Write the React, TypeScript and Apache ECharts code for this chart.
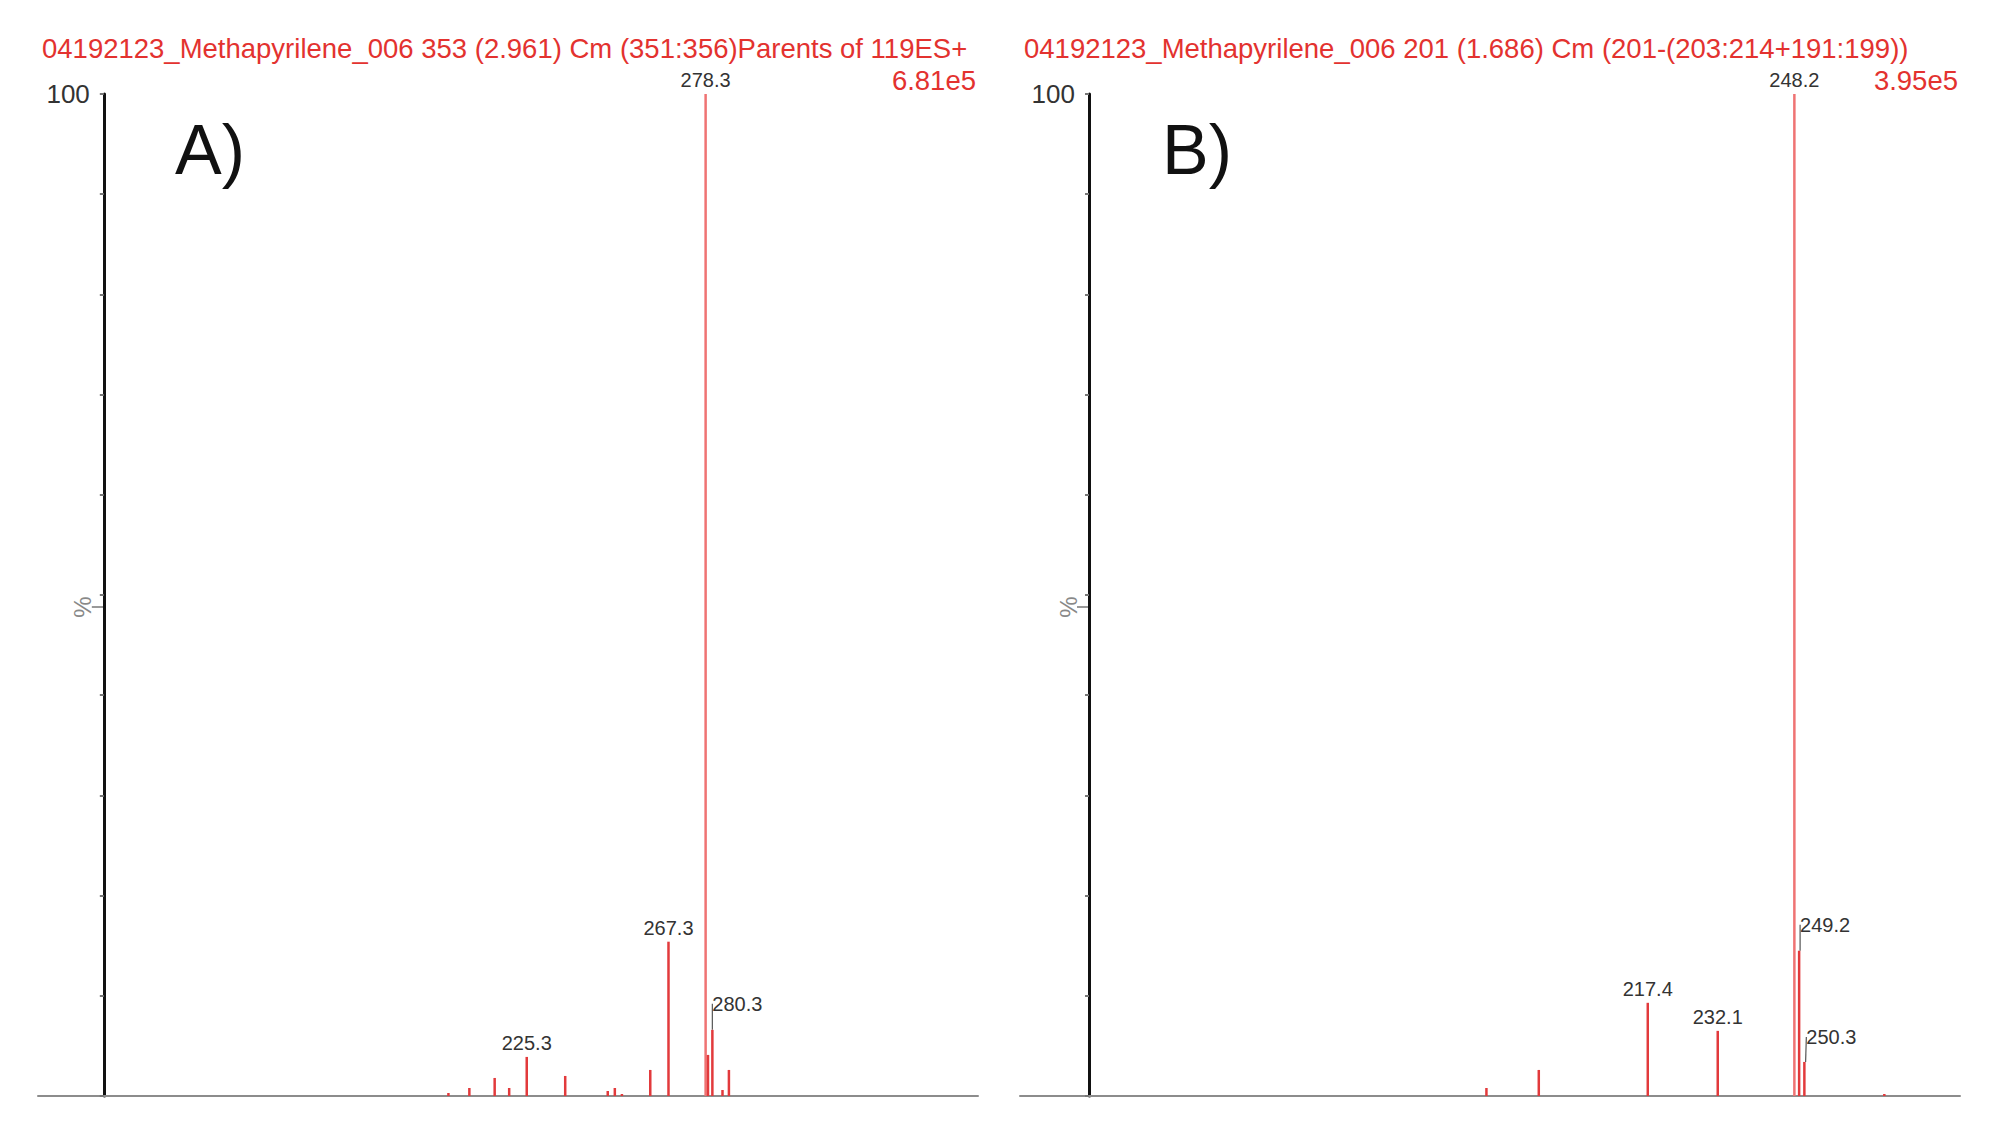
import React, { useEffect, useRef } from 'react';
import * as echarts from 'echarts';

// ---------- DATA ----------
const titleA = '04192123_Methapyrilene_006 353 (2.961) Cm (351:356)Parents of 119ES+';
const maxIntensityA = '6.81e5';
const massesA = [202.1, 208.3, 215.8, 220.1, 225.3, 236.7, 249.3, 251.4, 253.5, 261.9, 267.3, 278.3, 279.0, 280.3, 283.3, 285.2];
const intensitiesA = [0.3, 0.8, 1.8, 0.8, 3.9, 2.0, 0.5, 0.8, 0.2, 2.6, 15.4, 100, 4.1, 6.6, 0.6, 2.6];
const labeledA = [225.3, 267.3, 278.3, 280.3];
const mzRangeA = [80.5, 359];

const titleB = '04192123_Methapyrilene_006 201 (1.686) Cm (201-(203:214+191:199))';
const maxIntensityB = '3.95e5';
const massesB = [183.5, 194.5, 217.4, 232.1, 248.2, 249.2, 250.3, 267.1];
const intensitiesB = [0.8, 2.6, 9.3, 6.5, 100, 14.5, 3.4, 0.2];
const labeledB = [217.4, 232.1, 248.2, 249.2, 250.3];
const mzRangeB = [85.5, 283];

const yTickLabels = ['100'];
const yAxisName = '%';
const panelLetters = ['A)', 'B)'];
const axisAtMz = 100;

// ---------- STYLE / LAYOUT ----------
const FONT = "'Liberation Sans', Arial, Helvetica, sans-serif";
const RED = '#e3322f';
const PEAK = '#e23a3c';
const MAIN_PEAK = '#ef7373';
const GRID_TOP = 94;
const GRID_HEIGHT = 1002;
const GRID_WIDTH = 940;
const leaderOffsets: Record<string, [number, number]> = {
  '280.3': [25, -12],
  '249.2': [26, -12],
  '250.3': [27, -11],
};

const panels = [
  { title: titleA, maxI: maxIntensityA, masses: massesA, intens: intensitiesA, labeled: labeledA, range: mzRangeA, left: 38, titleX: 42, maxIRight: 976, letterX: 175 },
  { title: titleB, maxI: maxIntensityB, masses: massesB, intens: intensitiesB, labeled: labeledB, range: mzRangeB, left: 1020, titleX: 1024, maxIRight: 1958, letterX: 1162 },
];

export default function App() {
  const ref = useRef<HTMLDivElement>(null);
  useEffect(() => {
    document.body.style.margin = '0';
    if (!ref.current) return;
    const chart = echarts.init(ref.current, null, { renderer: 'svg' });

    const grids: any[] = [];
    const xAxes: any[] = [];
    const yAxes: any[] = [];
    const series: any[] = [];
    const graphic: any[] = [];

    panels.forEach((p, gi) => {
      grids.push({ left: p.left, top: GRID_TOP, width: GRID_WIDTH, height: GRID_HEIGHT, containLabel: false });
      xAxes.push({
        type: 'value', gridIndex: gi, min: p.range[0], max: p.range[1],
        axisLine: { show: true, lineStyle: { color: '#8c8c8c', width: 2 } },
        axisTick: { show: false }, axisLabel: { show: false }, splitLine: { show: false },
      });
      const axisPx = ((axisAtMz - p.range[0]) / (p.range[1] - p.range[0])) * GRID_WIDTH;
      yAxes.push({
        type: 'value', gridIndex: gi, min: 0, max: 100, interval: 10, offset: -axisPx,
        axisLine: { show: true, onZero: false, lineStyle: { color: '#111', width: 3 } },
        axisTick: { show: true, length: 4, lineStyle: { color: '#777', width: 2 } },
        axisLabel: {
          show: true, margin: 14, fontSize: 26, color: '#333', fontFamily: FONT,
          formatter: (v: number) => (yTickLabels.includes(String(v)) ? String(v) : ''),
        },
        splitLine: { show: false },
      });
      const data = p.masses.map((m, i) => {
        const h = p.intens[i];
        const key = m.toFixed(1);
        const item: any = { value: [m, h] };
        if (h === 100) item.itemStyle = { color: MAIN_PEAK };
        if (p.labeled.includes(m)) {
          item.label = { show: true, formatter: key };
          if (leaderOffsets[key]) item.labelLine = { show: true };
        }
        return item;
      });
      series.push({
        type: 'bar', xAxisIndex: gi, yAxisIndex: gi, barWidth: 2.5, data,
        itemStyle: { color: PEAK },
        label: { show: false, position: 'top', distance: 4, fontSize: 20, color: '#333', fontFamily: FONT },
        labelLine: { show: false, lineStyle: { color: '#555', width: 1.2 } },
        labelLayout: (params: any) => {
          const m = p.masses[params.dataIndex];
          const off = leaderOffsets[m.toFixed(1)];
          return off ? { dx: off[0], dy: off[1] } : {};
        },
      });
      const axisX = p.left + axisPx;
      const midY = GRID_TOP + GRID_HEIGHT / 2 + 12;
      graphic.push(
        { type: 'text', x: p.titleX, y: 48, style: { text: p.title, fill: RED, fontSize: 27.5, fontFamily: FONT, align: 'left', verticalAlign: 'middle' } },
        { type: 'text', x: p.maxIRight, y: 80, style: { text: p.maxI, fill: RED, fontSize: 27.5, fontFamily: FONT, align: 'right', verticalAlign: 'middle' } },
        { type: 'text', x: p.letterX, y: 150, style: { text: panelLetters[gi], fill: '#111', fontSize: 70, fontFamily: FONT, align: 'left', verticalAlign: 'middle' } },
        { type: 'line', shape: { x1: axisX - 12, y1: midY, x2: axisX, y2: midY }, style: { stroke: '#999', lineWidth: 2 } },
        { type: 'text', x: axisX - 21, y: midY, rotation: Math.PI / 2, style: { text: yAxisName, fill: '#888', fontSize: 24, fontFamily: FONT, align: 'center', verticalAlign: 'middle' } },
      );
    });

    chart.setOption({
      animation: false,
      backgroundColor: '#ffffff',
      grid: grids,
      xAxis: xAxes,
      yAxis: yAxes,
      series,
      graphic,
    });
    return () => chart.dispose();
  }, []);
  return <div ref={ref} style={{ width: 2000, height: 1142, position: 'absolute', left: 0, top: 0 }} />;
}
